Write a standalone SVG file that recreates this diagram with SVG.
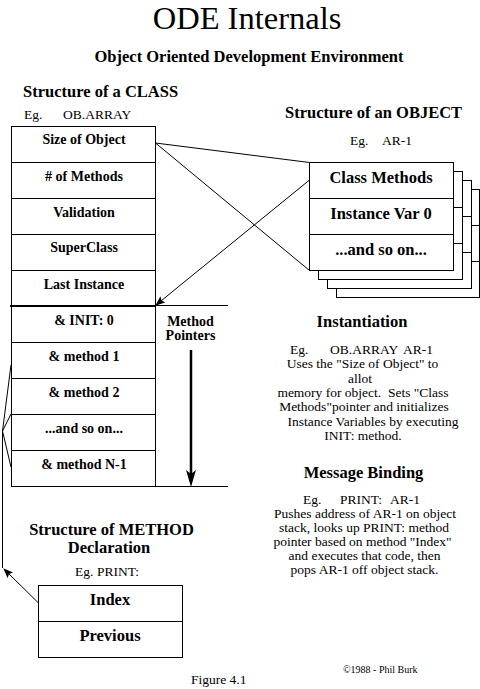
<svg xmlns="http://www.w3.org/2000/svg" width="480" height="689" viewBox="0 0 480 689">
<style>
text{font-family:"Liberation Serif",Tinos,"Times New Roman","DejaVu Serif",serif;fill:#000}
.title{font-size:32.5px}
.h{font-size:16.5px;font-weight:bold}
.cell{font-size:14px;font-weight:bold;text-anchor:middle}
.big{font-size:16.5px;font-weight:bold;text-anchor:middle}
.p{font-size:13.5px}
.pc{font-size:13.5px;text-anchor:middle}
.box{fill:#fff;stroke:#000;stroke-width:1}
.ln{stroke:#000;stroke-width:1;fill:none}
</style>
<defs>
<marker id="ah" markerUnits="userSpaceOnUse" markerWidth="10" markerHeight="8" refX="9" refY="4" orient="auto">
<path d="M0,0 L10,4 L0,8 L2,4 z" fill="#000"/>
</marker>
</defs>
<rect width="480" height="689" fill="#fff"/>

<g id="titles">
<text class="title" x="247" y="29" text-anchor="middle">ODE Internals</text>
<text class="h" x="249" y="62" text-anchor="middle">Object Oriented Development Environment</text>
<text class="h" x="23" y="97">Structure of a CLASS</text>
<text class="p" x="24" y="119">Eg.</text>
<text class="p" x="63" y="119">OB.ARRAY</text>
<text class="h" x="285" y="118">Structure of an OBJECT</text>
<text class="p" x="350" y="145">Eg.</text>
<text class="p" x="382" y="145">AR-1</text>
</g>

<g id="class-box">
<rect class="box" x="11.5" y="126.5" width="144" height="360"/>
<line class="ln" x1="11" y1="162.5" x2="155" y2="162.5"/>
<line class="ln" x1="11" y1="198.5" x2="155" y2="198.5"/>
<line class="ln" x1="11" y1="234.5" x2="155" y2="234.5"/>
<line class="ln" x1="11" y1="270.5" x2="155" y2="270.5"/>
<line x1="10" y1="306" x2="156" y2="306" stroke="#000" stroke-width="2"/>
<line class="ln" x1="155" y1="305.5" x2="228" y2="305.5"/>
<line class="ln" x1="11" y1="342.5" x2="155" y2="342.5"/>
<line class="ln" x1="11" y1="378.5" x2="155" y2="378.5"/>
<line class="ln" x1="11" y1="414.5" x2="155" y2="414.5"/>
<line class="ln" x1="11" y1="450.5" x2="155" y2="450.5"/>
<line class="ln" x1="155" y1="486.5" x2="228" y2="486.5"/>
<text class="cell" x="84" y="144">Size of Object</text>
<text class="cell" x="84" y="181"># of Methods</text>
<text class="cell" x="84" y="217">Validation</text>
<text class="cell" x="84" y="252">SuperClass</text>
<text class="cell" x="84" y="289">Last Instance</text>
<text class="cell" x="84" y="325">&amp; INIT: 0</text>
<text class="cell" x="84" y="361">&amp; method 1</text>
<text class="cell" x="84" y="397">&amp; method 2</text>
<text class="cell" x="84" y="433">...and so on...</text>
<text class="cell" x="84" y="469">&amp; method N-1</text>
<text class="cell" x="190.5" y="326">Method</text>
<text class="cell" x="190.5" y="340">Pointers</text>
</g>

<g id="object-box">
<rect class="box" x="336.5" y="189.5" width="143" height="108"/>
<line class="ln" x1="336" y1="225.5" x2="479" y2="225.5"/>
<line class="ln" x1="336" y1="261.5" x2="479" y2="261.5"/>
<rect class="box" x="327.5" y="180.5" width="144" height="108"/>
<line class="ln" x1="327" y1="216.5" x2="471" y2="216.5"/>
<line class="ln" x1="327" y1="252.5" x2="471" y2="252.5"/>
<rect class="box" x="318.5" y="171.5" width="144" height="108"/>
<line class="ln" x1="318" y1="207.5" x2="462" y2="207.5"/>
<line class="ln" x1="318" y1="243.5" x2="462" y2="243.5"/>
<rect class="box" x="309.5" y="162.5" width="144" height="108"/>
<line class="ln" x1="309" y1="198.5" x2="453" y2="198.5"/>
<line class="ln" x1="309" y1="234.5" x2="453" y2="234.5"/>
<text class="big" x="381" y="183">Class Methods</text>
<text class="big" x="381" y="219">Instance Var 0</text>
<text class="big" x="381" y="255">...and so on...</text>
</g>

<g id="instantiation">
<text class="big" x="362" y="327">Instantiation</text>
<text class="p" x="290" y="354">Eg.</text>
<text class="p" x="330" y="354">OB.ARRAY</text>
<text class="p" x="403" y="354">AR-1</text>
<text class="pc" x="362.5" y="368">Uses the "Size of Object" to</text>
<text class="pc" x="360" y="383">allot</text>
<text class="pc" x="363" y="397" style="white-space:pre">memory for object.  Sets "Class</text>
<text class="pc" x="364" y="411">Methods"pointer and initializes</text>
<text class="pc" x="373" y="426">Instance Variables by executing</text>
<text class="pc" x="363" y="440">INIT: method.</text>
</g>

<g id="message-binding">
<text class="big" x="363.5" y="478">Message Binding</text>
<text class="p" x="303" y="504">Eg.</text>
<text class="p" x="340" y="504">PRINT:</text>
<text class="p" x="390" y="504">AR-1</text>
<text class="pc" x="365" y="518">Pushes address of AR-1 on object</text>
<text class="pc" x="364" y="532">stack, looks up PRINT: method</text>
<text class="pc" x="362.5" y="546">pointer based on method "Index"</text>
<text class="pc" x="364.5" y="560">and executes that code, then</text>
<text class="pc" x="364.5" y="574">pops AR-1 off object stack.</text>
</g>

<g id="method-box">
<text class="big" x="111.5" y="535">Structure of METHOD</text>
<text class="big" x="109" y="553">Declaration</text>
<text class="p" x="75" y="576">Eg.</text>
<text class="p" x="97" y="576">PRINT:</text>
<rect class="box" x="38.5" y="585.5" width="144" height="72"/>
<line class="ln" x1="38" y1="621.5" x2="182" y2="621.5"/>
<text class="big" x="110" y="605">Index</text>
<text class="big" x="110" y="641">Previous</text>
</g>

<g id="footer">
<text class="p" x="191" y="684">Figure 4.1</text>
<text x="343" y="673" style="font-size:10px">©1988 - Phil Burk</text>
</g>

<g id="connectors">
<line class="ln" x1="155.5" y1="143" x2="309.5" y2="162.5"/>
<line class="ln" x1="155.5" y1="143" x2="309.5" y2="270.5"/>
<line class="ln" x1="309.5" y1="180" x2="156" y2="305" marker-end="url(#ah)"/>
<line class="ln" x1="11" y1="365" x2="2.5" y2="431"/>
<line class="ln" x1="2.5" y1="431" x2="11" y2="414"/>
<line class="ln" x1="2.5" y1="431" x2="11" y2="467"/>
<line class="ln" x1="2.5" y1="431" x2="2.5" y2="568"/>
<line class="ln" x1="38.5" y1="603" x2="4" y2="569" marker-end="url(#ah)"/>
<line x1="191" y1="350" x2="191" y2="474" stroke="#000" stroke-width="2.5"/>
<path d="M186,470 L191,487 L196,470 L191,474 z" fill="#000"/>
</g>
</svg>
